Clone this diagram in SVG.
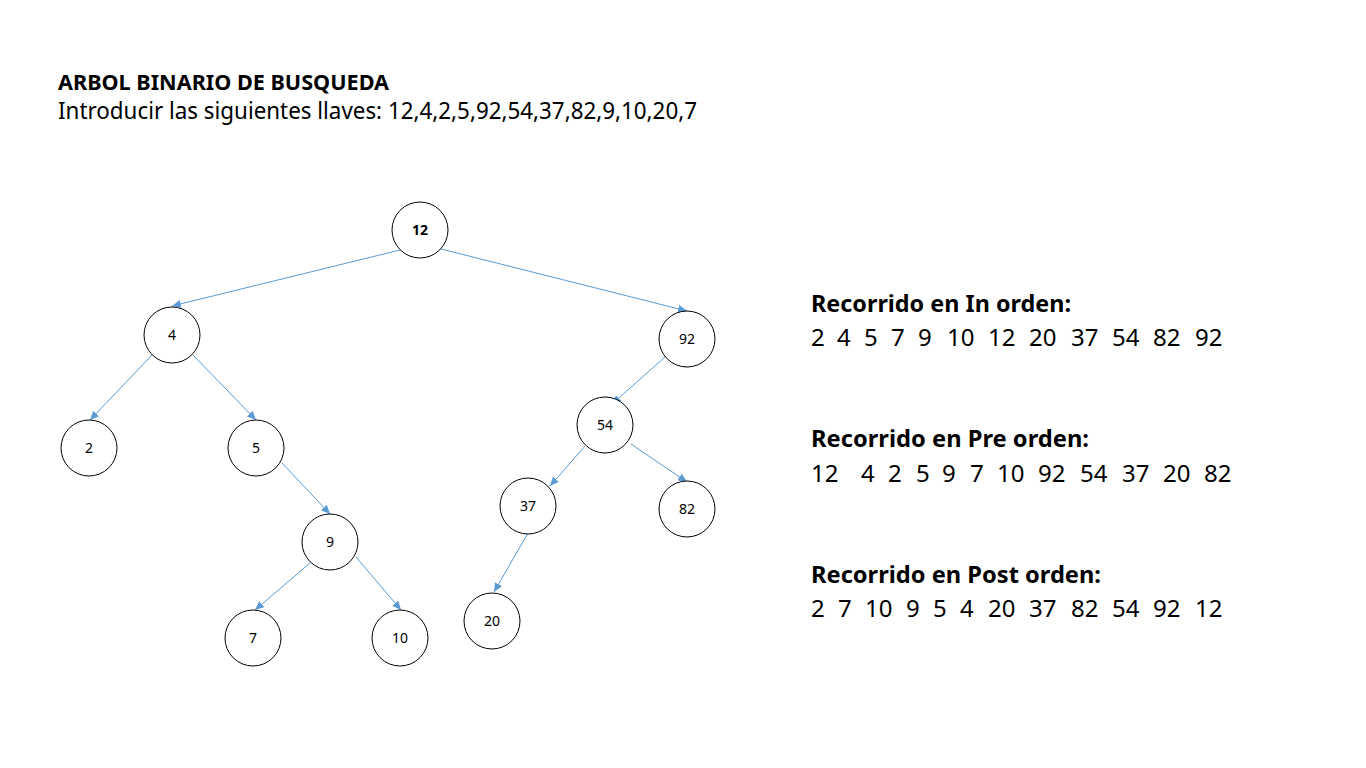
<svg xmlns="http://www.w3.org/2000/svg" width="1366" height="768" viewBox="0 0 1366 768">
<defs>
<style>
.t{font-family:"Noto Sans","Open Sans","Liberation Sans",sans-serif;fill:#000}
.n circle{fill:#fff;stroke:#000;stroke-width:1}
.n text{font-family:"Noto Sans","Liberation Sans",sans-serif;font-size:14px;text-anchor:middle;fill:#000}
.e line{stroke:#5B9BD5;stroke-width:1;marker-end:url(#ah)}
</style>
<marker id="ah" markerUnits="userSpaceOnUse" markerWidth="9" markerHeight="8" refX="9" refY="4" orient="auto">
<path d="M0,0 L9,4 L0,8 z" fill="#5B9BD5"/>
</marker>
</defs>
<rect width="1366" height="768" fill="#fff"/>
<text class="t" x="58" y="90" font-size="22" font-weight="bold" textLength="331" lengthAdjust="spacingAndGlyphs">ARBOL BINARIO DE BUSQUEDA</text>
<text class="t" x="58" y="119" font-size="23" textLength="639" lengthAdjust="spacingAndGlyphs">Introducir las siguientes llaves: 12,4,2,5,92,54,37,82,9,10,20,7</text>

<g id="edges" class="e">
<line x1="400" y1="250" x2="172" y2="306"/>
<line x1="441" y1="249" x2="687" y2="311"/>
<line x1="152" y1="355" x2="90" y2="420"/>
<line x1="193" y1="355" x2="256" y2="420"/>
<line x1="282" y1="463" x2="330" y2="514"/>
<line x1="310" y1="563" x2="255" y2="610"/>
<line x1="356" y1="557" x2="401" y2="610"/>
<line x1="665" y1="357" x2="612" y2="404"/>
<line x1="585" y1="446" x2="550" y2="486"/>
<line x1="631" y1="444" x2="687" y2="482"/>
<line x1="528" y1="533" x2="494" y2="592"/>
</g>

<g id="n12" class="n"><circle cx="420" cy="230" r="28"/><text x="420" y="235" font-weight="bold">12</text></g>
<g id="n4" class="n"><circle cx="172" cy="335" r="28"/><text x="172" y="340">4</text></g>
<g id="n92" class="n"><circle cx="687" cy="339" r="28"/><text x="687" y="344">92</text></g>
<g id="n2" class="n"><circle cx="89" cy="448" r="28"/><text x="89" y="453">2</text></g>
<g id="n5" class="n"><circle cx="256" cy="448" r="28"/><text x="256" y="453">5</text></g>
<g id="n54" class="n"><circle cx="605" cy="425" r="28"/><text x="605" y="430">54</text></g>
<g id="n37" class="n"><circle cx="528" cy="506" r="28"/><text x="528" y="511">37</text></g>
<g id="n82" class="n"><circle cx="687" cy="509" r="28"/><text x="687" y="514">82</text></g>
<g id="n9" class="n"><circle cx="330" cy="542" r="28"/><text x="330" y="547">9</text></g>
<g id="n7" class="n"><circle cx="253" cy="638" r="28"/><text x="253" y="643">7</text></g>
<g id="n10" class="n"><circle cx="400" cy="638" r="28"/><text x="400" y="643">10</text></g>
<g id="n20" class="n"><circle cx="492" cy="621" r="28"/><text x="492" y="626">20</text></g>

<g id="traversals" class="t" font-size="24">
<text x="811" y="312" font-weight="bold" textLength="260" lengthAdjust="spacingAndGlyphs">Recorrido en In orden:</text>
<text y="346"><tspan x="811">2</tspan><tspan x="837">4</tspan><tspan x="864">5</tspan><tspan x="891">7</tspan><tspan x="918">9</tspan><tspan x="947">10</tspan><tspan x="988">12</tspan><tspan x="1029">20</tspan><tspan x="1071">37</tspan><tspan x="1112">54</tspan><tspan x="1153">82</tspan><tspan x="1195">92</tspan></text>
<text x="811" y="447" font-weight="bold" textLength="278" lengthAdjust="spacingAndGlyphs">Recorrido en Pre orden:</text>
<text y="482"><tspan x="811">12</tspan><tspan x="861">4</tspan><tspan x="888">2</tspan><tspan x="916">5</tspan><tspan x="942">9</tspan><tspan x="970">7</tspan><tspan x="997">10</tspan><tspan x="1038">92</tspan><tspan x="1080">54</tspan><tspan x="1122">37</tspan><tspan x="1163">20</tspan><tspan x="1204">82</tspan></text>
<text x="811" y="583" font-weight="bold" textLength="290" lengthAdjust="spacingAndGlyphs">Recorrido en Post orden:</text>
<text y="617"><tspan x="811">2</tspan><tspan x="838">7</tspan><tspan x="865">10</tspan><tspan x="906">9</tspan><tspan x="933">5</tspan><tspan x="960">4</tspan><tspan x="988">20</tspan><tspan x="1029">37</tspan><tspan x="1071">82</tspan><tspan x="1112">54</tspan><tspan x="1153">92</tspan><tspan x="1195">12</tspan></text>
</g>
</svg>
